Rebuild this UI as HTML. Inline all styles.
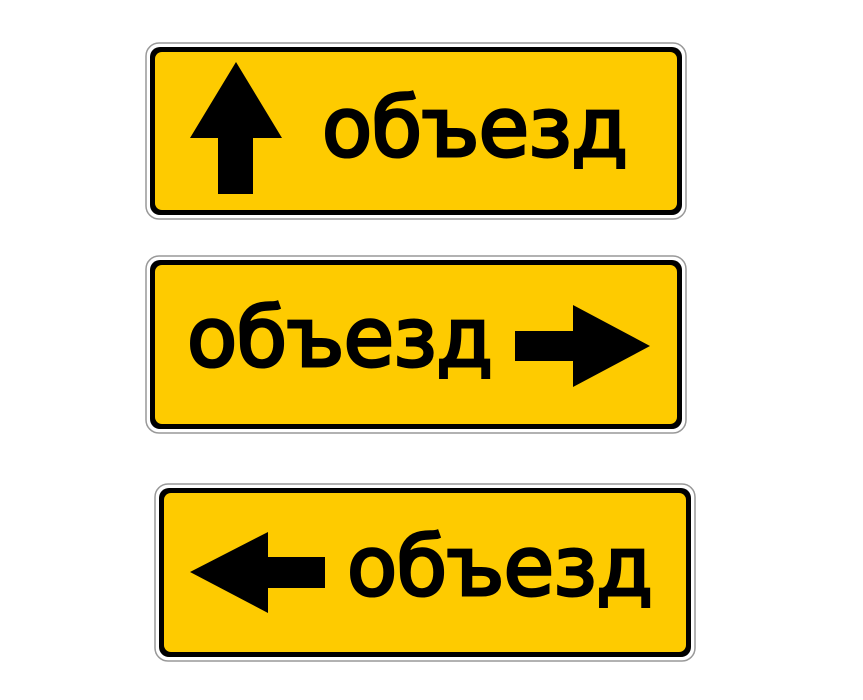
<!DOCTYPE html>
<html><head><meta charset="utf-8"><style>
html,body{margin:0;padding:0;background:#fff;}
svg{display:block;}
text{font-family:"DejaVu Sans","Liberation Sans",sans-serif;font-weight:normal;fill:#000;stroke:#000;stroke-width:3;}
</style></head><body>
<svg width="863" height="700" viewBox="0 0 863 700">
  <g>
    <rect x="146" y="43" width="540" height="176" rx="13" fill="#fff" stroke="#999" stroke-width="1.5"/>
    <rect x="150" y="47" width="532" height="168" rx="10" fill="#000"/>
    <rect x="155" y="52" width="522" height="158" rx="7" fill="#fecb00"/>
    <polygon points="236,62 282,138 253,138 253,194 218,194 218,138 190,138" fill="#000"/>
    <text x="322" y="156" font-size="82" textLength="306" lengthAdjust="spacing">объезд</text>
  </g>
  <g>
    <rect x="146" y="256" width="540" height="177" rx="13" fill="#fff" stroke="#999" stroke-width="1.5"/>
    <rect x="150" y="260" width="532" height="169" rx="10" fill="#000"/>
    <rect x="155" y="265" width="522" height="159" rx="7" fill="#fecb00"/>
    <text x="187" y="366" font-size="82" textLength="306" lengthAdjust="spacing">объезд</text>
    <polygon points="515,331 573,331 573,305 650,346 573,387 573,361 515,361" fill="#000"/>
  </g>
  <g>
    <rect x="155" y="484" width="540" height="177" rx="13" fill="#fff" stroke="#999" stroke-width="1.5"/>
    <rect x="159" y="488" width="532" height="169" rx="10" fill="#000"/>
    <rect x="164" y="493" width="522" height="159" rx="7" fill="#fecb00"/>
    <polygon points="190,572 268,532 268,557 325,557 325,588 268,588 268,613" fill="#000"/>
    <text x="347" y="595" font-size="82" textLength="306" lengthAdjust="spacing">объезд</text>
  </g>
</svg>
</body></html>
